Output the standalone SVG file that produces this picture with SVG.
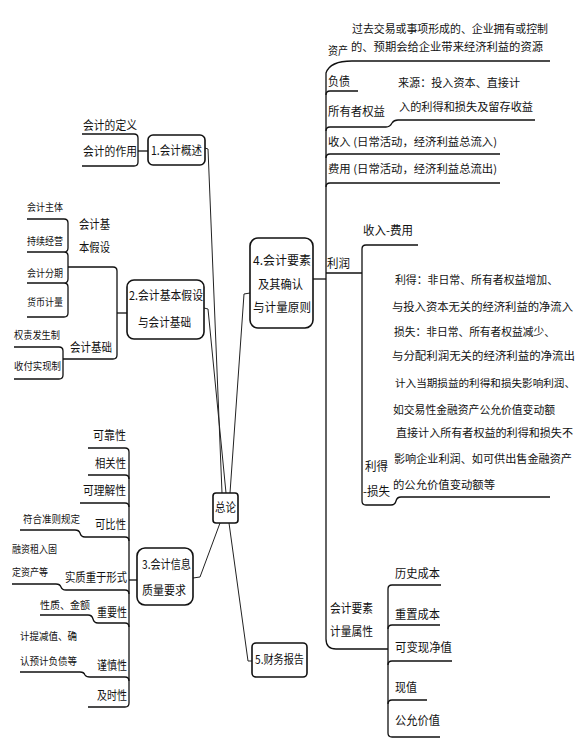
<svg xmlns="http://www.w3.org/2000/svg" width="580" height="740" viewBox="0 0 580 740">
<style>
text { font-family: "Noto Sans CJK SC", "Noto Sans", sans-serif; font-size: 12px; fill: #111; }
text.a { font-size: 10.5px; }
text.p { font-size: 11px; }
.box { fill: #fff; stroke: #111; stroke-width: 1.6; }
.ln { fill: none; stroke: #111; stroke-width: 1.3; }
.cn { fill: none; stroke: #222; stroke-width: 1; }
</style>
<rect width="580" height="740" fill="#fff"/>

<g id="connectors">
  <path class="cn" d="M205,148 L208,149 L222,493"/>
  <path class="cn" d="M204,308 L208,309 L226,493"/>
  <path class="cn" d="M250,293 L244,294 L230,493"/>
  <path class="cn" d="M193,578 L200,577 L220,523"/>
  <path class="cn" d="M229,523 L248,661 L252,661"/>
  <path class="ln" d="M138,151 H148"/>
  <path class="ln" d="M68,267 H113 Q117,267 117,271 V355 Q117,359 113,359 H63"/>
  <path class="ln" d="M117,313 H127"/>
  <path class="ln" d="M129,580 H137"/>
  <path class="ln" d="M313,279 H326"/>
  <path class="ln" d="M550,61 H352 Q330,61 326,73 V639 Q326,649 336,649 H388"/>
  <path class="ln" d="M326,273 H362"/>
</g>

<g id="n-center">
  <rect class="box" x="213" y="493" width="25" height="30" rx="3"/>
  <text x="215" y="512" textLength="21" lengthAdjust="spacingAndGlyphs">总论</text>
</g>

<g id="n1">
  <rect class="box" x="148" y="135" width="57" height="30" rx="5"/>
  <text x="151" y="155" textLength="51" lengthAdjust="spacingAndGlyphs">1.会计概述</text>
</g>
<g id="n1-items">
  <text x="83" y="130" textLength="54" lengthAdjust="spacingAndGlyphs">会计的定义</text>
  <text x="83" y="156" textLength="54" lengthAdjust="spacingAndGlyphs">会计的作用</text>
  <path class="ln" d="M82,134 H134 Q138,134 138,138 V162 Q138,166 134,166 H82"/>
</g>

<g id="n2">
  <rect class="box" x="127" y="280" width="77" height="59" rx="7"/>
  <text x="129" y="300" textLength="74" lengthAdjust="spacingAndGlyphs">2.会计基本假设</text>
  <text x="138" y="327" textLength="53" lengthAdjust="spacingAndGlyphs">与会计基础</text>
</g>
<g id="n2-assumptions">
  <text x="79" y="229" textLength="31" lengthAdjust="spacingAndGlyphs">会计基</text>
  <text x="79" y="252" textLength="31" lengthAdjust="spacingAndGlyphs">本假设</text>
  <text class="a" x="27" y="211" textLength="36" lengthAdjust="spacingAndGlyphs">会计主体</text>
  <text class="a" x="27" y="245" textLength="36" lengthAdjust="spacingAndGlyphs">持续经营</text>
  <text class="a" x="27" y="277" textLength="36" lengthAdjust="spacingAndGlyphs">会计分期</text>
  <text class="a" x="27" y="306" textLength="36" lengthAdjust="spacingAndGlyphs">货币计量</text>
  <path class="ln" d="M27,219 H64 Q68,219 68,223 V248 Q68,252 64,252 H27 M64,252 Q68,252 68,256 V279 Q68,283 64,283 H27 M64,283 Q68,283 68,287 V313 Q68,317 64,317 H27"/>
</g>
<g id="n2-basis">
  <text x="70" y="352" textLength="42" lengthAdjust="spacingAndGlyphs">会计基础</text>
  <text class="a" x="14" y="339" textLength="46" lengthAdjust="spacingAndGlyphs">权责发生制</text>
  <text class="a" x="14" y="370" textLength="47" lengthAdjust="spacingAndGlyphs">收付实现制</text>
  <path class="ln" d="M14,347 H59 Q63,347 63,351 V375 Q63,379 59,379 H14"/>
</g>

<g id="n3">
  <rect class="box" x="137" y="548" width="56" height="57" rx="8"/>
  <text x="142" y="569" textLength="49" lengthAdjust="spacingAndGlyphs">3.会计信息</text>
  <text x="142" y="595" textLength="44" lengthAdjust="spacingAndGlyphs">质量要求</text>
</g>
<g id="n3-items">
  <text x="93" y="440" textLength="33" lengthAdjust="spacingAndGlyphs">可靠性</text>
  <text x="95" y="468" textLength="31" lengthAdjust="spacingAndGlyphs">相关性</text>
  <text x="83" y="495" textLength="43" lengthAdjust="spacingAndGlyphs">可理解性</text>
  <text x="95" y="529" textLength="31" lengthAdjust="spacingAndGlyphs">可比性</text>
  <text x="65" y="582" textLength="62" lengthAdjust="spacingAndGlyphs">实质重于形式</text>
  <text x="97" y="617" textLength="30" lengthAdjust="spacingAndGlyphs">重要性</text>
  <text x="97" y="670" textLength="30" lengthAdjust="spacingAndGlyphs">谨慎性</text>
  <text x="97" y="700" textLength="30" lengthAdjust="spacingAndGlyphs">及时性</text>
  <text class="a" x="23" y="523" textLength="57" lengthAdjust="spacingAndGlyphs">符合准则规定</text>
  <text class="a" x="12" y="553" textLength="45" lengthAdjust="spacingAndGlyphs">融资租入固</text>
  <text class="a" x="12" y="576" textLength="36" lengthAdjust="spacingAndGlyphs">定资产等</text>
  <text class="a" x="40" y="609" textLength="50" lengthAdjust="spacingAndGlyphs">性质、金额</text>
  <text class="a" x="20" y="640" textLength="57" lengthAdjust="spacingAndGlyphs">计提减值、确</text>
  <text class="a" x="20" y="665" textLength="57" lengthAdjust="spacingAndGlyphs">认预计负债等</text>
  <path class="ln" d="M88,448 H125 Q129,448 129,452 V703 Q129,707 125,707 H88"/>
  <path class="ln" d="M88,475 H125 Q129,475 129,479"/>
  <path class="ln" d="M80,503 H125 Q129,503 129,507"/>
  <path class="ln" d="M20,530 H75 Q79,530 80,533 Q81,537 85,537 H125 Q129,537 129,541"/>
  <path class="ln" d="M12,584 H56 Q60,584 61,587 Q62,590 66,590 H125 Q129,590 129,594"/>
  <path class="ln" d="M40,615 H88 Q92,615 93,619 Q94,623 98,623 H125 Q129,623 129,627"/>
  <path class="ln" d="M20,672 H80 Q84,672 85,675 Q86,677 90,677 H125 Q129,677 129,681"/>
</g>

<g id="n4">
  <rect class="box" x="250" y="238" width="63" height="90" rx="8"/>
  <text x="253" y="265" textLength="58" lengthAdjust="spacingAndGlyphs">4.会计要素</text>
  <text x="258" y="289" textLength="45" lengthAdjust="spacingAndGlyphs">及其确认</text>
  <text x="253" y="312" textLength="58" lengthAdjust="spacingAndGlyphs">与计量原则</text>
</g>
<g id="n4-elements">
  <text class="p" x="352" y="33" textLength="196" lengthAdjust="spacingAndGlyphs">过去交易或事项形成的、企业拥有或控制</text>
  <text class="p" x="328" y="55" textLength="20" lengthAdjust="spacingAndGlyphs">资产</text>
  <text class="p" x="351" y="51" textLength="192" lengthAdjust="spacingAndGlyphs">的、预期会给企业带来经济利益的资源</text>
  <text x="328" y="86" textLength="22" lengthAdjust="spacingAndGlyphs">负债</text>
  <path class="ln" d="M358,91 H330 Q326,91 326,95"/>
  <text class="p" x="398" y="87" textLength="122" lengthAdjust="spacingAndGlyphs">来源：投入资本、直接计</text>
  <text class="p" x="399" y="111" textLength="134" lengthAdjust="spacingAndGlyphs">入的利得和损失及留存收益</text>
  <text x="328" y="116" textLength="57" lengthAdjust="spacingAndGlyphs">所有者权益</text>
  <path class="ln" d="M535,120 H398 Q394,120 392,123 Q390,127 386,127 H330 Q326,127 326,131"/>
  <text class="p" x="328" y="146" textLength="169" lengthAdjust="spacingAndGlyphs">收入 (日常活动，经济利益总流入)</text>
  <path class="ln" d="M500,154 H330 Q326,154 326,158"/>
  <text class="p" x="328" y="173" textLength="169" lengthAdjust="spacingAndGlyphs">费用 (日常活动，经济利益总流出)</text>
  <path class="ln" d="M500,183 H330 Q326,183 326,187"/>
</g>
<g id="n4-profit">
  <text x="327" y="268" textLength="23" lengthAdjust="spacingAndGlyphs">利润</text>
  <path class="ln" d="M418,245 H366 Q362,245 362,249 V501 Q362,505 366,505 H391 Q395,505 396,501 Q397,497 401,497 H550"/>
  <text x="363" y="235" textLength="50" lengthAdjust="spacingAndGlyphs">收入-费用</text>
  <text x="365" y="471" textLength="23" lengthAdjust="spacingAndGlyphs">利得</text>
  <text x="363" y="496" textLength="27" lengthAdjust="spacingAndGlyphs">-损失</text>
  <text class="p" x="395" y="284" textLength="163" lengthAdjust="spacingAndGlyphs">利得：非日常、所有者权益增加、</text>
  <text class="p" x="392" y="311" textLength="181" lengthAdjust="spacingAndGlyphs">与投入资本无关的经济利益的净流入</text>
  <text class="p" x="394" y="336" textLength="161" lengthAdjust="spacingAndGlyphs">损失：非日常、所有者权益减少、</text>
  <text class="p" x="392" y="360" textLength="183" lengthAdjust="spacingAndGlyphs">与分配利润无关的经济利益的净流出</text>
  <text class="p" x="395" y="387" textLength="180" lengthAdjust="spacingAndGlyphs" style="font-size:10.6px">计入当期损益的利得和损失影响利润、</text>
  <text class="p" x="393" y="414" textLength="162" lengthAdjust="spacingAndGlyphs">如交易性金融资产公允价值变动额</text>
  <text class="p" x="396" y="437" textLength="177" lengthAdjust="spacingAndGlyphs">直接计入所有者权益的利得和损失不</text>
  <text class="p" x="394" y="463" textLength="178" lengthAdjust="spacingAndGlyphs">影响企业利润、如可供出售金融资产</text>
  <text class="p" x="393" y="489" textLength="102" lengthAdjust="spacingAndGlyphs">的公允价值变动额等</text>
</g>
<g id="n4-measure">
  <text x="330" y="613" textLength="43" lengthAdjust="spacingAndGlyphs">会计要素</text>
  <text x="330" y="636" textLength="43" lengthAdjust="spacingAndGlyphs">计量属性</text>
  <path class="ln" d="M441,585 H392 Q388,585 388,589 V733 Q388,737 392,737 H440"/>
  <path class="ln" d="M440,625 H392 Q388,625 388,629"/>
  <path class="ln" d="M452,661 H392 Q388,661 388,665"/>
  <path class="ln" d="M427,700 H392 Q388,700 388,704"/>
  <text x="395" y="578" textLength="45" lengthAdjust="spacingAndGlyphs">历史成本</text>
  <text x="395" y="619" textLength="45" lengthAdjust="spacingAndGlyphs">重置成本</text>
  <text x="395" y="652" textLength="57" lengthAdjust="spacingAndGlyphs">可变现净值</text>
  <text x="395" y="692" textLength="22" lengthAdjust="spacingAndGlyphs">现值</text>
  <text x="395" y="725" textLength="45" lengthAdjust="spacingAndGlyphs">公允价值</text>
</g>

<g id="n5">
  <rect class="box" x="252" y="643" width="55" height="34" rx="4"/>
  <text x="255" y="664" textLength="49" lengthAdjust="spacingAndGlyphs">5.财务报告</text>
</g>
</svg>
